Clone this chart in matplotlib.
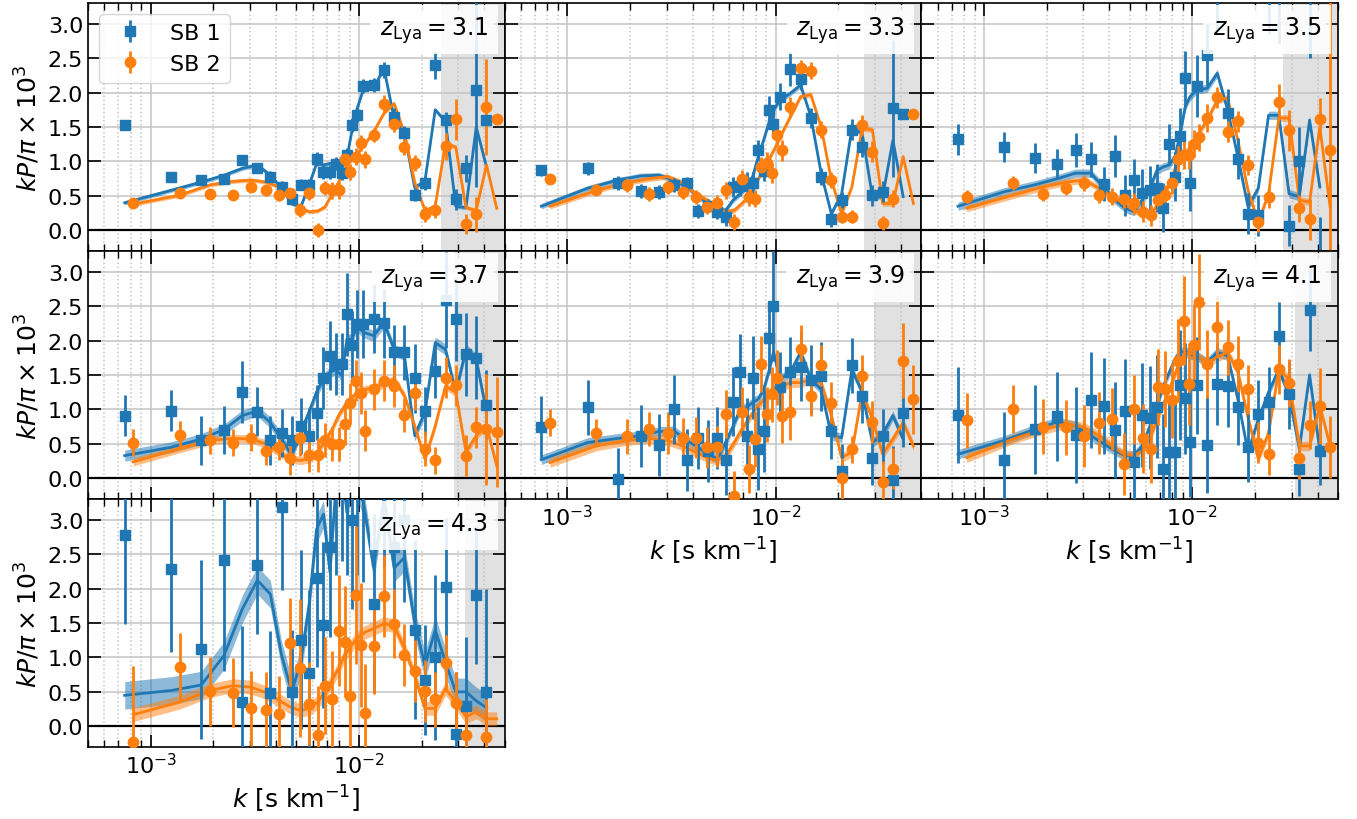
import numpy as np
import matplotlib
matplotlib.use("Agg")
import matplotlib.pyplot as plt
from matplotlib.ticker import LogLocator, MultipleLocator, NullFormatter

nan = np.nan

# k bins [s/km]: linear up to ~1e-2, logarithmic above
K_SB1 = [0.00075, 0.00125, 0.00175, 0.00225, 0.00275, 0.00325, 0.00375, 0.00425, 0.00475, 0.00525,
         0.00575, 0.00625, 0.00675, 0.00725, 0.00775, 0.00825, 0.00875, 0.00925, 0.00975,
         0.0105, 0.01176, 0.01317, 0.01475, 0.01652, 0.0185, 0.02072, 0.02321, 0.026, 0.02912,
         0.03261, 0.03652, 0.0409, 0.04581]
K_SB2 = [0.000825, 0.001375, 0.001925, 0.002475, 0.003025, 0.003575, 0.004125, 0.004675, 0.005225, 0.005775,
         0.006325, 0.006875, 0.007425, 0.007975, 0.008525, 0.009075, 0.009625, 0.010175, 0.010725,
         0.01176, 0.01317, 0.01475, 0.01652, 0.0185, 0.02072, 0.02321, 0.026, 0.02912,
         0.03261, 0.03652, 0.0409, 0.04581]

Z_LYA = ["3.1", "3.3", "3.5", "3.7", "3.9", "4.1", "4.3"]
K_CUT = [0.0247, 0.0264, 0.0273, 0.0285, 0.0295, 0.0311, 0.0321]
BAND_SB1 = [0.03, 0.04, 0.06, 0.08, 0.07, 0.07, 0.20]
BAND_SB2 = [0.03, 0.04, 0.05, 0.06, 0.07, 0.07, 0.10]

# z = 3.1
sb1_p_31 = [1.53, 0.78, 0.73, 0.75, 1.02, 0.90, 0.78, 0.63, 0.45, 0.66, 0.66, 1.04, 0.85, 0.85, 0.97, 0.83, 1.09, 1.53, 1.67,
            2.09, 2.11, 2.33, 1.65, 1.42, 0.52, 0.69, 2.40, 1.60, 0.45, 0.90, 2.03, 1.60, nan]
sb1_e_31 = [0.03, 0.03, 0.05, 0.06, 0.07, 0.07, 0.08, 0.08, 0.08, 0.08, 0.08, 0.10, 0.10, 0.10, 0.10, 0.10, 0.10, 0.10, 0.10,
            0.10, 0.10, 0.12, 0.12, 0.10, 0.10, 0.10, 0.20, 0.12, 0.15, 0.20, 1.40, 0.08, nan]
sb1_m_31 = [0.40, 0.58, 0.70, 0.80, 0.90, 0.95, 0.80, 0.61, 0.39, 0.34, 0.65, 0.97, 0.95, 0.97, 0.98, 0.92, 1.05, 1.45, 1.75,
            2.05, 2.07, 2.35, 1.62, 1.40, 0.62, 0.72, 1.75, 1.58, 0.35, 0.33, 1.50, 0.92, nan]
sb2_p_31 = [0.39, 0.54, 0.53, 0.51, 0.63, 0.58, 0.51, 0.54, 0.30, 0.54, 0.01, 0.61, 0.58, 0.58, 1.03, 0.85, 1.07, 1.27, 1.03,
            1.38, 1.84, 1.55, 1.21, 0.98, 0.24, 0.30, 1.22, 1.61, 0.09, 0.23, 1.79, 1.61]
sb2_e_31 = [0.05, 0.05, 0.07, 0.07, 0.08, 0.08, 0.08, 0.08, 0.10, 0.10, 0.10, 0.10, 0.12, 0.12, 0.12, 0.12, 0.12, 0.12, 0.12,
            0.10, 0.12, 0.12, 0.12, 0.12, 0.12, 0.12, 0.20, 0.30, 0.15, 0.25, 0.70, 0.05]
sb2_m_31 = [0.38, 0.51, 0.66, 0.71, 0.73, 0.70, 0.63, 0.49, 0.32, 0.27, 0.28, 0.34, 0.53, 0.70, 0.87, 1.00, 1.07, 1.17, 1.26,
            1.43, 1.70, 1.84, 1.41, 0.70, 0.29, 0.35, 1.26, 1.21, 0.33, 0.29, 0.95, 0.32]

# z = 3.3
sb1_p_33 = [0.87, 0.90, 0.69, 0.57, 0.56, 0.66, 0.68, 0.28, 0.36, 0.27, 0.19, 0.63, 0.65, 0.69, 0.69, 1.16, 0.86, 1.75, 1.54,
            1.94, 2.34, 2.19, 1.63, 0.78, 0.17, 0.44, 1.46, 1.21, 0.51, 0.56, 1.77, 1.69, nan]
sb1_e_33 = [0.08, 0.09, 0.10, 0.10, 0.10, 0.10, 0.10, 0.10, 0.10, 0.10, 0.12, 0.15, 0.15, 0.15, 0.15, 0.15, 0.15, 0.20, 0.20,
            0.20, 0.25, 0.15, 0.15, 0.12, 0.12, 0.12, 0.15, 0.15, 0.15, 0.15, 1.00, 0.05, nan]
sb1_m_33 = [0.35, 0.61, 0.73, 0.79, 0.80, 0.73, 0.63, 0.49, 0.39, 0.32, 0.29, 0.44, 0.53, 0.63, 0.78, 1.07, 1.31, 1.55, 1.75,
            1.89, 1.99, 2.11, 1.65, 0.83, 0.24, 0.53, 1.48, 1.41, 0.49, 0.49, 1.31, 0.49, nan]
sb2_p_33 = [0.75, 0.59, 0.66, 0.53, 0.63, 0.56, 0.48, 0.34, 0.39, 0.58, 0.12, 0.75, 0.48, 0.46, 0.92, 0.98, 0.83, 1.38, 1.16,
            1.79, 2.35, 2.32, 1.46, 0.73, 0.20, 0.20, 1.53, 1.14, 0.11, 0.46, nan, 1.69]
sb2_e_33 = [0.07, 0.08, 0.10, 0.10, 0.10, 0.10, 0.10, 0.10, 0.12, 0.12, 0.12, 0.12, 0.12, 0.12, 0.15, 0.15, 0.15, 0.15, 0.15,
            0.15, 0.12, 0.12, 0.12, 0.12, 0.10, 0.10, 0.15, 0.15, 0.10, 0.12, nan, 0.03]
sb2_m_33 = [0.35, 0.58, 0.69, 0.75, 0.78, 0.69, 0.53, 0.44, 0.32, 0.27, 0.29, 0.39, 0.49, 0.66, 0.83, 0.97, 1.12, 1.26, 1.41,
            1.65, 1.94, 1.97, 1.50, 0.73, 0.24, 0.63, 1.48, 1.46, 0.39, 0.39, 1.07, 0.39]

# z = 3.5
sb1_p_35 = [1.32, 1.21, 1.05, 0.96, 1.17, 1.03, 0.67, 1.08, 0.51, 0.73, 0.54, 0.58, 0.61, 0.33, 1.25, 0.78, 1.37, 2.21, 0.68,
            2.10, 2.55, 3.50, 1.70, 1.04, 0.24, 0.22, 3.60, 3.50, 0.07, 1.00, 3.50, -0.60, nan]
sb1_e_35 = [0.22, 0.22, 0.22, 0.22, 0.25, 0.25, 0.25, 0.30, 0.30, 0.30, 0.35, 0.35, 0.35, 0.35, 0.30, 0.35, 0.40, 0.40, 0.40,
            0.45, 0.45, 0.60, 0.35, 0.30, 0.30, 0.30, 0.75, 0.80, 0.30, 0.50, 1.00, 0.80, nan]
sb1_m_35 = [0.35, 0.56, 0.66, 0.75, 0.83, 0.83, 0.63, 0.44, 0.32, 0.27, 0.44, 0.61, 0.87, 0.92, 0.95, 1.07, 1.41, 1.80, 1.94,
            2.04, 2.06, 2.28, 1.75, 1.07, 0.34, 0.61, 1.67, 1.67, 0.53, 0.49, 1.60, 0.63, nan]
sb2_p_35 = [0.49, 0.69, 0.53, 0.61, 0.69, 0.52, 0.49, 0.45, 0.39, 0.27, 0.22, 0.44, 0.51, 0.68, 1.03, 1.09, 1.09, 1.26, 1.35,
            1.63, 1.93, 1.43, 1.58, 0.95, 0.12, 0.48, 1.87, 1.45, 0.32, 0.16, 1.62, 1.17]
sb2_e_35 = [0.10, 0.10, 0.10, 0.10, 0.12, 0.12, 0.12, 0.12, 0.15, 0.15, 0.15, 0.15, 0.15, 0.15, 0.20, 0.20, 0.20, 0.20, 0.20,
            0.20, 0.15, 0.15, 0.15, 0.15, 0.15, 0.15, 0.25, 0.30, 0.20, 0.30, 0.30, 3.50]
sb2_m_35 = [0.32, 0.51, 0.63, 0.70, 0.73, 0.61, 0.49, 0.39, 0.29, 0.24, 0.24, 0.39, 0.53, 0.78, 1.00, 1.12, 1.17, 1.29, 1.41,
            1.60, 1.89, 1.92, 1.31, 0.58, 0.12, 0.53, 1.63, 1.63, 0.44, 0.41, 1.50, 0.34]

# z = 3.7
sb1_p_37 = [0.91, 0.98, 0.55, 0.70, 1.25, 0.97, 0.55, 0.66, 0.55, 0.76, 0.62, 0.95, 1.46, 1.78, 1.66, 1.66, 2.38, 1.93, 2.24,
            2.24, 2.32, 2.25, 1.83, 1.83, 1.45, 0.98, 1.56, 2.59, 2.31, 1.80, 1.75, 1.07, nan]
sb1_e_37 = [0.30, 0.30, 0.35, 0.35, 0.45, 0.35, 0.35, 0.35, 0.35, 0.40, 0.40, 0.40, 0.45, 0.50, 0.45, 0.45, 0.60, 0.50, 0.50,
            0.50, 0.50, 0.50, 0.40, 0.40, 0.50, 0.35, 0.40, 0.70, 0.60, 0.60, 0.60, 0.50, nan]
sb1_m_37 = [0.33, 0.45, 0.57, 0.71, 0.91, 0.98, 0.81, 0.57, 0.33, 0.67, 0.96, 1.25, 1.44, 1.54, 1.58, 1.49, 2.02, 2.02, 2.21,
            2.12, 2.07, 2.26, 1.87, 1.78, 0.62, 0.96, 1.97, 1.87, 1.25, 1.87, 1.73, 0.96, nan]
sb2_p_37 = [0.52, 0.63, 0.55, 0.52, 0.59, 0.39, 0.46, 0.30, 0.58, 0.34, 0.34, 0.56, 0.50, 0.50, 0.79, 1.09, 1.42, 1.24, 0.69,
            1.29, 1.42, 1.34, 0.92, 1.24, 0.43, 0.26, 1.46, 1.35, 0.33, 0.74, 0.71, 0.67]
sb2_e_37 = [0.20, 0.20, 0.20, 0.20, 0.20, 0.20, 0.20, 0.25, 0.25, 0.25, 0.25, 0.25, 0.25, 0.25, 0.30, 0.30, 0.30, 0.30, 0.30,
            0.30, 0.30, 0.30, 0.25, 0.25, 0.25, 0.20, 0.30, 0.30, 0.30, 0.30, 0.80, 0.80]
sb2_m_37 = [0.24, 0.43, 0.55, 0.58, 0.57, 0.50, 0.38, 0.28, 0.26, 0.28, 0.38, 0.55, 0.71, 0.91, 1.05, 1.15, 1.22, 1.27, 1.29,
            1.32, 1.37, 1.44, 1.20, 0.76, 0.28, 0.76, 1.34, 1.25, 0.38, 0.62, 0.76, 0.18]

# z = 3.9
sb1_p_39 = [0.75, 1.03, -0.01, 0.61, 0.48, 1.00, 0.27, 0.58, 0.40, 0.58, 0.26, 1.11, 1.54, 0.62, 1.46, 0.43, 0.69, 2.03, 2.50,
            1.33, 1.55, 1.62, 1.43, 1.48, 0.68, 0.10, 1.64, 1.20, 0.30, 0.61, -0.03, 0.95, nan]
sb1_e_39 = [0.45, 0.40, 0.45, 0.45, 0.45, 0.50, 0.45, 0.45, 0.45, 0.45, 0.50, 0.50, 0.55, 0.55, 0.60, 0.60, 0.60, 0.50, 0.80,
            0.50, 0.50, 0.50, 0.50, 0.50, 0.40, 0.40, 0.40, 0.40, 0.40, 0.40, 0.50, 0.50, nan]
sb1_m_39 = [0.27, 0.52, 0.58, 0.62, 0.68, 0.69, 0.55, 0.45, 0.35, 0.28, 0.52, 0.76, 1.00, 1.03, 1.10, 1.15, 1.29, 1.54, 1.83,
            1.44, 1.54, 1.83, 1.44, 1.29, 0.62, 0.59, 1.58, 1.25, 0.52, 0.64, 0.91, 0.57, nan]
sb2_p_39 = [0.81, 0.66, 0.61, 0.72, 0.66, 0.58, 0.59, 0.45, 0.46, 0.93, -0.25, 0.97, 0.14, 0.57, 1.66, 0.93, 1.22, 1.46, 0.91,
            0.96, 1.88, 1.20, 1.64, 1.10, 0.00, 0.42, 1.49, 0.82, -0.05, 0.14, 1.71, 1.15]
sb2_e_39 = [0.20, 0.20, 0.25, 0.25, 0.30, 0.30, 0.30, 0.30, 0.30, 0.35, 0.35, 0.35, 0.35, 0.40, 0.40, 0.40, 0.40, 0.40, 0.40,
            0.40, 0.35, 0.30, 0.30, 0.30, 0.30, 0.20, 0.30, 0.30, 0.30, 0.30, 0.55, 0.50]
sb2_m_39 = [0.23, 0.47, 0.55, 0.58, 0.55, 0.47, 0.38, 0.30, 0.26, 0.33, 0.52, 0.71, 0.86, 1.00, 1.10, 1.20, 1.29, 1.34, 1.34,
            1.39, 1.39, 1.44, 1.39, 0.91, 0.30, 0.38, 1.25, 0.86, 0.35, 0.57, 0.81, 0.47]

# z = 4.1
sb1_p_41 = [0.92, 0.26, 0.71, 0.90, 0.63, 1.14, 1.05, 0.70, 0.98, 0.24, 0.92, 0.88, 1.04, 0.14, 0.38, 0.38, 1.35, 1.16, 0.53,
            1.35, 0.48, 1.37, 1.34, 1.04, 0.45, 0.93, 1.11, 2.06, 1.22, 0.14, 2.45, 0.40, nan]
sb1_e_41 = [0.70, 0.70, 0.65, 0.65, 0.70, 0.70, 0.70, 0.70, 0.75, 0.75, 0.75, 0.75, 0.75, 0.80, 0.80, 0.80, 0.80, 0.80, 0.80,
            0.70, 0.70, 0.60, 0.60, 0.55, 0.50, 0.50, 0.50, 0.50, 0.50, 0.40, 0.60, 0.50, nan]
sb1_m_41 = [0.35, 0.55, 0.71, 0.82, 0.76, 0.62, 0.50, 0.40, 0.33, 0.33, 0.47, 0.76, 1.05, 1.34, 1.54, 1.73, 1.83, 1.85, 1.80,
            1.78, 1.68, 1.83, 1.78, 1.15, 0.38, 0.86, 1.25, 1.58, 1.20, 0.43, 1.50, 0.40, nan]
sb2_p_41 = [0.84, 1.01, 0.75, 0.74, 0.62, 0.81, 0.86, 0.21, 1.00, 0.58, 0.43, 1.33, 1.30, 1.13, 1.71, 2.29, 1.37, 1.93, 2.56,
            1.66, 2.20, 1.90, 1.66, 1.29, 0.52, 0.35, 1.58, 1.38, 0.29, 0.77, 1.05, 0.45]
sb2_e_41 = [0.40, 0.35, 0.40, 0.40, 0.45, 0.45, 0.45, 0.45, 0.50, 0.50, 0.50, 0.55, 0.55, 0.55, 0.60, 0.65, 0.60, 0.60, 0.70,
            0.50, 0.45, 0.40, 0.40, 0.35, 0.30, 0.30, 0.35, 0.35, 0.30, 0.35, 0.55, 0.45]
sb2_m_41 = [0.30, 0.57, 0.71, 0.79, 0.74, 0.62, 0.47, 0.35, 0.33, 0.40, 0.62, 0.91, 1.15, 1.39, 1.63, 1.78, 1.83, 1.80, 1.76,
            1.68, 1.76, 1.83, 1.55, 0.88, 0.28, 0.66, 1.58, 1.44, 0.47, 0.47, 1.05, 0.47]

# z = 4.3
sb1_p_43 = [2.78, 2.28, 1.12, 2.41, 0.35, 2.34, 0.49, 3.18, 0.50, 1.26, 0.78, 2.16, 1.47, 2.60, 3.50, 3.80, 4.00, 3.00, 3.60,
            3.50, 1.78, 3.60, 2.60, 3.00, 1.40, 0.67, 1.00, 2.02, -0.11, 0.30, 1.91, 0.50, nan]
sb1_e_43 = [1.30, 1.20, 1.30, 1.60, 1.10, 1.00, 0.90, 1.20, 0.90, 1.30, 1.20, 1.30, 1.20, 1.30, 1.30, 1.40, 1.80, 1.30, 1.40,
            1.40, 1.30, 1.30, 1.20, 1.20, 1.30, 0.80, 1.20, 1.00, 0.90, 1.00, 1.00, 1.50, nan]
sb1_m_43 = [0.45, 0.52, 0.60, 1.03, 1.70, 2.12, 1.92, 1.03, 0.50, 0.93, 1.75, 2.86, 3.08, 2.24, 3.50, 3.80, 3.10, 3.70, 3.50,
            3.25, 2.30, 3.30, 2.30, 2.45, 1.50, 0.88, 1.40, 0.93, 0.50, 0.50, 0.37, 0.27, nan]
sb2_p_43 = [-0.23, 0.86, 0.51, 0.49, 0.26, 0.24, 0.18, 1.21, 0.85, 0.33, -0.12, 0.59, 0.40, 1.39, 1.23, 0.44, 1.91, 1.18, 0.20,
            1.17, 1.89, 1.49, 1.04, 0.81, 0.51, 0.39, 0.92, 0.34, -0.12, nan, -0.15, nan]
sb2_e_43 = [1.10, 0.50, 0.50, 0.50, 0.55, 0.55, 0.55, 0.65, 1.00, 0.60, 0.70, 0.70, 0.70, 0.80, 0.80, 0.80, 1.00, 0.90, 0.70,
            0.70, 0.60, 0.50, 0.45, 0.45, 0.45, 0.40, 0.40, 0.45, 0.40, nan, 0.55, nan]
sb2_m_43 = [0.17, 0.35, 0.52, 0.59, 0.57, 0.49, 0.38, 0.28, 0.23, 0.26, 0.35, 0.50, 0.67, 0.84, 1.03, 1.15, 1.25, 1.32, 1.37,
            1.42, 1.49, 1.46, 1.13, 0.74, 0.26, 0.26, 0.55, 0.35, 0.14, 0.21, 0.11, 0.11]

SB1_P = [sb1_p_31, sb1_p_33, sb1_p_35, sb1_p_37, sb1_p_39, sb1_p_41, sb1_p_43]
SB1_E = [sb1_e_31, sb1_e_33, sb1_e_35, sb1_e_37, sb1_e_39, sb1_e_41, sb1_e_43]
SB1_M = [sb1_m_31, sb1_m_33, sb1_m_35, sb1_m_37, sb1_m_39, sb1_m_41, sb1_m_43]
SB2_P = [sb2_p_31, sb2_p_33, sb2_p_35, sb2_p_37, sb2_p_39, sb2_p_41, sb2_p_43]
SB2_E = [sb2_e_31, sb2_e_33, sb2_e_35, sb2_e_37, sb2_e_39, sb2_e_41, sb2_e_43]
SB2_M = [sb2_m_31, sb2_m_33, sb2_m_35, sb2_m_37, sb2_m_39, sb2_m_41, sb2_m_43]

C1 = "#1f77b4"
C2 = "#ff7f0e"

fig, axes = plt.subplots(3, 3, figsize=(13.57, 8.2), dpi=100, sharex=True, sharey=True,
                         gridspec_kw=dict(hspace=0, wspace=0))
fig.subplots_adjust(left=88 / 1357, right=1338 / 1357, top=1 - 4 / 820, bottom=1 - 748 / 820)
axes[2, 1].remove()
axes[2, 2].remove()
panels = [axes[0, 0], axes[0, 1], axes[0, 2], axes[1, 0], axes[1, 1], axes[1, 2], axes[2, 0]]

k1 = np.array(K_SB1)
k2 = np.array(K_SB2)

for i, ax in enumerate(panels):
    ax.set_xscale("log")
    ax.set_axisbelow(True)
    ax.grid(True, which="major", color="#c4c4c4", lw=1.1)
    ax.grid(True, which="minor", axis="x", color="#c4c4c4", lw=1.1, ls=":")
    ax.axvspan(K_CUT[i], 0.06, color="#e1e1e1", lw=0, zorder=0.2)
    ax.axhline(0, color="k", lw=1.6, zorder=1.5)

    m1 = np.array(SB1_M[i])
    m2 = np.array(SB2_M[i])
    h1 = ax.errorbar(k1, SB1_P[i], yerr=SB1_E[i], fmt="s", color=C1, ms=6.5,
                     elinewidth=2, capsize=0, zorder=3, label="SB 1")
    h2 = ax.errorbar(k2, SB2_P[i], yerr=SB2_E[i], fmt="o", color=C2, ms=7.5,
                     elinewidth=2, capsize=0, zorder=3, label="SB 2")
    ax.fill_between(k1, m1 - BAND_SB1[i], m1 + BAND_SB1[i], color=C1, alpha=0.5, lw=0, zorder=2.4)
    ax.plot(k1, m1, color=C1, lw=2, zorder=2.5)
    ax.fill_between(k2, m2 - BAND_SB2[i], m2 + BAND_SB2[i], color=C2, alpha=0.5, lw=0, zorder=2.4)
    ax.plot(k2, m2, color=C2, lw=2, zorder=2.5)

    ax.text(0.9606, 0.955, r"$z_{\rm Lya} = %s$" % Z_LYA[i], transform=ax.transAxes,
            ha="right", va="top", fontsize=17, zorder=10,
            bbox=dict(boxstyle="square,pad=0.4", fc="white", ec="none", alpha=0.88))

    ax.set_xlim(5e-4, 5e-2)
    ax.set_ylim(-0.3, 3.3)
    ax.yaxis.set_major_locator(MultipleLocator(0.5))
    ax.xaxis.set_major_locator(LogLocator(base=10, numticks=10))
    ax.xaxis.set_minor_locator(LogLocator(base=10, subs=np.arange(2, 10), numticks=20))
    ax.xaxis.set_minor_formatter(NullFormatter())
    ax.tick_params(which="both", direction="in", top=True, right=True, labelsize=16)
    ax.tick_params(which="major", length=9, width=1.2)
    ax.tick_params(which="minor", length=5, width=1.0)
    for sp in ax.spines.values():
        sp.set_linewidth(1.2)

    if i == 0:
        ax.legend(handles=[h1, h2], loc="upper left", fontsize=16)

for ax in (panels[0], panels[3], panels[6]):
    ax.set_ylabel(r"$kP/\pi \times 10^3$", fontsize=18)
for ax in (panels[4], panels[5], panels[6]):
    ax.tick_params(labelbottom=True)
    ax.set_xlabel(r"$k$ [s km$^{-1}$]", fontsize=18)

fig.savefig("out.png", dpi=100)
